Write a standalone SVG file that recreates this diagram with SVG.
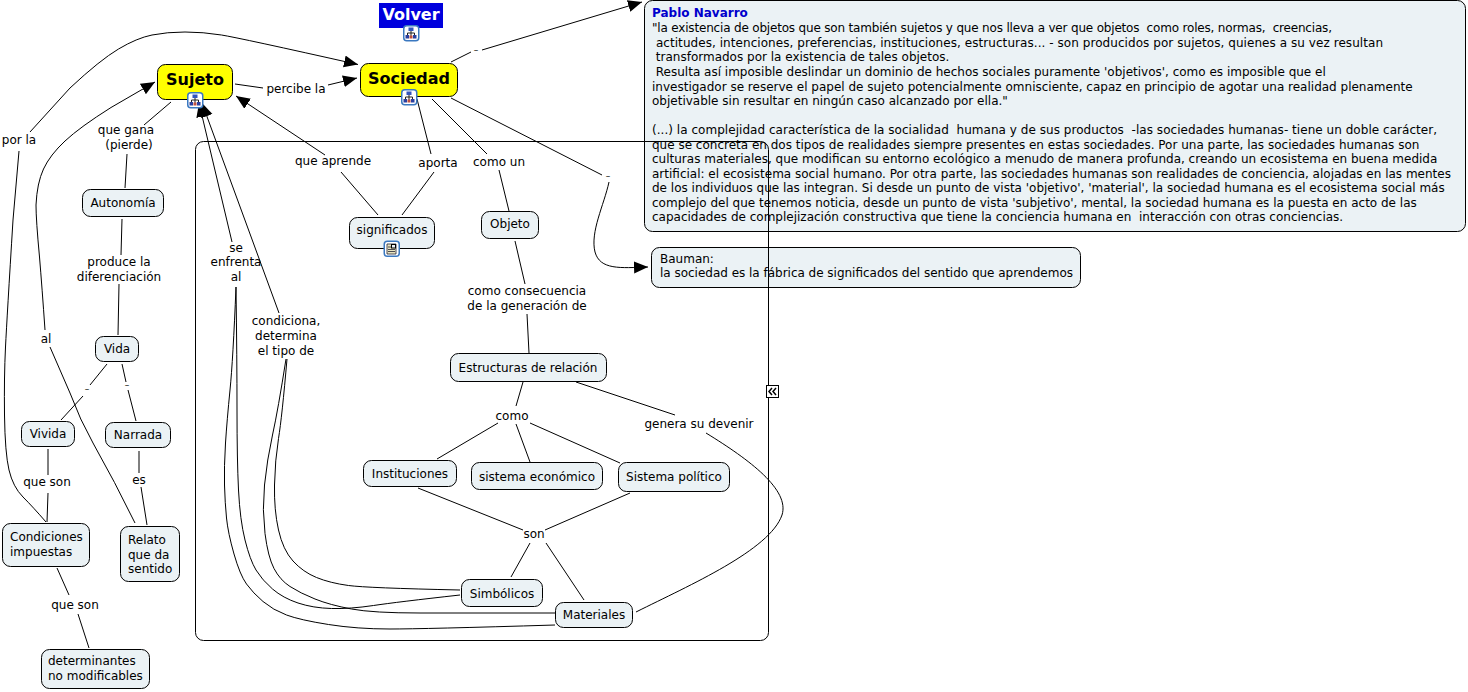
<svg xmlns="http://www.w3.org/2000/svg" width="1468" height="692" viewBox="0 0 1468 692">
<style>
text{font-family:"DejaVu Sans","Verdana",sans-serif;font-size:12px;fill:#000;text-anchor:middle}
.n rect{fill:#ebf2f5;stroke:#000;stroke-width:1}
.y rect{fill:#ffff00;stroke:#000;stroke-width:1}
.y text{font-size:16px;font-weight:bold}
.c path{fill:none;stroke:#000;stroke-width:1}
.b text,.l{text-anchor:start;white-space:pre}
.n rect.ic,rect.ic{fill:#fff;stroke:#3a78c0;stroke-width:1.500}
</style>
<defs>
<marker id="ah" markerUnits="userSpaceOnUse" markerWidth="15" markerHeight="13" refX="14" refY="6" orient="auto"><path d="M0 0L14 6L0 12Z" fill="#000"/></marker>
<g id="cm"><rect class="ic" x="0.750" y="0.750" width="15" height="15" rx="3"/><path d="M8 6v2M4.500 8h7M4.500 8v2M11.500 8v2M8 8v3" fill="none" stroke="#222" stroke-width="1"/><rect x="5.500" y="2.500" width="5" height="3.500" fill="#3355bb"/><rect x="2.500" y="10" width="3.500" height="3.500" fill="#2a3f9e"/><rect x="10" y="10" width="3.500" height="3.500" fill="#2a3f9e"/><rect x="6.500" y="10.500" width="3" height="3" fill="#c05040"/></g>
</defs>
<g class="c" id="connectors">
<path d="M235 84L263 88"/><path d="M328 85L357 78" marker-end="url(#ah)"/>
<path d="M451 62L471 52"/><path d="M482 50L642 2" marker-end="url(#ah)"/>
<path d="M417 99L431 154"/><path d="M432 99L487 154"/><path d="M499 170L509 211"/>
<path d="M451 98L602 175"/><path d="M609 182C604 205 590 232 595 252C600 270 620 268 648 267" marker-end="url(#ah)"/>
<path d="M341 172L378 215"/><path d="M434 172L402 215"/><path d="M325 155L236 96" marker-end="url(#ah)"/>
<path d="M171 102L144 125"/><path d="M127 154L125 188"/>
<path d="M122 219L121 255"/><path d="M119 284L118 335"/>
<path d="M107 364L90 385"/><path d="M83 396L61 420"/><path d="M122 364L126 382"/><path d="M128 390L136 421"/>
<path d="M48 449L48 475"/><path d="M48 493L47 522"/>
<path d="M139 451L139 473"/><path d="M141 487L147 525"/>
<path d="M57 568L69 595"/><path d="M78 614L89 648"/>
<path d="M515 241L525 284"/><path d="M527 314L529 353"/>
<path d="M523 382L516 406"/><path d="M498 423L437 459"/><path d="M516 424L530 462"/><path d="M530 423L620 463"/>
<path d="M576 382L675 415"/>
<path d="M706 433C750 460 790 490 782 515C770 550 690 585 636 612"/>
<path d="M418 488L523 530"/><path d="M630 493L545 530"/>
<path d="M530 543L511 577"/><path d="M546 543L584 600"/>
<path d="M45 330Q42 287 39.500 257Q36 220 36 205Q37 183 43.500 169Q50 155 65 141Q80 127 111 107.500L155 82" marker-end="url(#ah)"/>
<path d="M50 347Q60 370 70 393Q80 420 93 443Q115 482 135 523"/>
<path d="M19 151L13 220Q7 317 5.500 347Q4 377 4.500 415Q5 453 9 470Q13 487 23 497Q33 507 46 522"/>
<path d="M30 132L70 88Q100 60 118.500 49Q137 38 152 35Q167 32 185 32Q203 32 221.500 35Q240 38 358 64.500" marker-end="url(#ah)"/>
<path d="M232 242L199 103" marker-end="url(#ah)"/>
<path d="M279 313L202 103" marker-end="url(#ah)"/>
<path d="M236 287Q233 360 230 390Q227 420 225.500 443Q224 467 224.500 485Q225 503 226.500 518Q228 533 234 554Q240 575 246.500 584Q253 593 263 601.500Q273 610 286.500 615Q300 620 328.500 624.500Q357 629 390 629Q423 629 555 625"/>
<path d="M236 287Q237 360 237 410Q237 460 238.500 490Q240 520 245 540Q250 560 256 570Q262 580 272.500 589Q283 598 298 603Q313 608 331.500 608.500Q350 609 373.500 605.500Q397 602 460 595"/>
<path d="M286 359Q278 410 272.500 435Q267 460 264.500 485Q262 510 265 533.500Q268 557 274 568.500Q280 580 290 586.500Q300 593 315 599Q330 605 351.500 609Q373 613 420 613L555 613"/>
<path d="M287 359Q282 417 278.500 438.500Q275 460 274.500 485Q274 510 278.500 530Q283 550 293 561Q303 572 316.500 577.500Q330 583 348.500 585.500Q367 588 460 590"/>
</g>
<g id="labels">
<text x="296" y="93">percibe la</text>
<text x="333" y="165">que aprende</text>
<text x="438" y="167">aporta</text>
<text x="499" y="166">como un</text>
<text x="126" y="134">que gana</text><text x="129" y="149">(pierde)</text>
<text x="119" y="266">produce la</text><text x="119" y="281">diferenciación</text>
<text x="19" y="144">por la</text>
<text x="46" y="343">al</text>
<text x="236" y="252">se</text><text x="236" y="266">enfrenta</text><text x="236" y="281">al</text>
<text x="286" y="325">condiciona,</text><text x="286" y="340">determina</text><text x="286" y="355">el tipo de</text>
<text x="527" y="295">como consecuencia</text><text x="527" y="310">de la generación de</text>
<text x="512" y="420">como</text>
<text x="699" y="428">genera su devenir</text>
<text x="534" y="538">son</text>
<text x="47" y="486">que son</text>
<text x="139" y="484">es</text>
<text x="75" y="609">que son</text>
<text x="476" y="53" style="font-size:9px">–</text>
<text x="608" y="179" style="font-size:9px">–</text>
<text x="87" y="392" style="font-size:9px">–</text>
<text x="127" y="388" style="font-size:9px">–</text>
</g>
<g id="volver"><rect x="379" y="3" width="64" height="25" fill="#0000dd"/><text x="411" y="20" style="font-size:16px;font-weight:bold;fill:#fff">Volver</text><use href="#cm" x="403" y="25"/></g>
<g id="sujeto" class="y"><rect x="157.500" y="64.500" width="75" height="35" rx="8"/><text x="195" y="85">Sujeto</text><use href="#cm" x="187" y="92"/></g>
<g id="sociedad" class="y"><rect x="360.500" y="63.500" width="97" height="33" rx="8"/><text x="409" y="84">Sociedad</text><use href="#cm" x="401" y="89"/></g>
<g id="significados" class="n"><rect x="349.500" y="217.500" width="85" height="31" rx="8"/><text x="392" y="234">significados</text><rect class="ic" x="384.250" y="241.250" width="15" height="15" rx="3"/><path d="M387 244h9v10h-9z" fill="#e8e4c0" stroke="#223" stroke-width="0.800"/><rect x="391.500" y="244.500" width="4" height="3.500" fill="#4477cc"/><path d="M388 247h3M388 249.500h7M388 251.500h7" stroke="#223" stroke-width="0.800"/></g>
<g id="objeto" class="n"><rect x="481.500" y="211.500" width="57" height="27" rx="8"/><text x="510" y="228">Objeto</text></g>
<g id="autonomia" class="n"><rect x="82.500" y="189.500" width="81" height="27" rx="8"/><text x="123" y="207">Autonomía</text></g>
<g id="vida" class="n"><rect x="95.500" y="336.500" width="43" height="25" rx="8"/><text x="117" y="353">Vida</text></g>
<g id="vivida" class="n"><rect x="21.500" y="421.500" width="53" height="25" rx="8"/><text x="48" y="438">Vivida</text></g>
<g id="narrada" class="n"><rect x="105.500" y="422.500" width="65" height="25" rx="8"/><text x="138" y="439">Narrada</text></g>
<g id="condiciones" class="n"><rect x="2.500" y="523.500" width="87" height="43" rx="8"/><text class="l" x="10" y="541">Condiciones</text><text class="l" x="10" y="556">impuestas</text></g>
<g id="relato" class="n"><rect x="120.500" y="526.500" width="59" height="55" rx="8"/><text class="l" x="128" y="544">Relato</text><text class="l" x="128" y="559">que da</text><text class="l" x="128" y="573">sentido</text></g>
<g id="determinantes" class="n"><rect x="41.500" y="649.500" width="108" height="39" rx="8"/><text class="l" x="48" y="665">determinantes</text><text class="l" x="48" y="680">no modificables</text></g>
<g id="estructuras" class="n"><rect x="450.500" y="353.500" width="156" height="28" rx="8"/><text x="528" y="372">Estructuras de relación</text></g>
<g id="instituciones" class="n"><rect x="363.500" y="460.500" width="93" height="26" rx="8"/><text x="410" y="478">Instituciones</text></g>
<g id="economico" class="n"><rect x="471.500" y="462.500" width="131" height="27" rx="8"/><text x="537" y="481">sistema económico</text></g>
<g id="politico" class="n"><rect x="618.500" y="462.500" width="111" height="29" rx="8"/><text x="674" y="481">Sistema político</text></g>
<g id="simbolicos" class="n"><rect x="461.500" y="579.500" width="81" height="27" rx="8"/><text x="502" y="598">Simbólicos</text></g>
<g id="materiales" class="n"><rect x="555.500" y="602.500" width="77" height="25" rx="8"/><text x="594" y="619">Materiales</text></g>
<g id="bauman" class="n b"><rect x="651.500" y="247.500" width="429" height="40" rx="8"/><text x="660" y="263">Bauman:</text><text x="660" y="277" textLength="413">la sociedad es la fábrica de significados del sentido que aprendemos</text></g>
<g id="navarro" class="n b"><rect x="644.500" y="0.500" width="821" height="231" rx="8"/>
<text x="652" y="17" style="font-weight:bold;fill:#0000cc">Pablo Navarro</text>
<text x="652" y="32" xml:space="preserve" textLength="680">"la existencia de objetos que son también sujetos y que nos lleva a ver que objetos  como roles, normas,  creencias,</text>
<text x="652" y="47" xml:space="preserve" textLength="731"> actitudes, intenciones, preferencias, instituciones, estructuras... - son producidos por sujetos, quienes a su vez resultan</text>
<text x="652" y="61" xml:space="preserve"> transformados por la existencia de tales objetos.</text>
<text x="652" y="76" xml:space="preserve"> Resulta así imposible deslindar un dominio de hechos sociales puramente 'objetivos', como es imposible que el</text>
<text x="652" y="91">investigador se reserve el papel de sujeto potencialmente omnisciente, capaz en principio de agotar una realidad plenamente</text>
<text x="652" y="105">objetivable sin resultar en ningún caso alcanzado por ella."</text>
<text x="652" y="134" xml:space="preserve" textLength="785">(...) la complejidad característica de la socialidad  humana y de sus productos  -las sociedades humanas- tiene un doble carácter,</text>
<text x="652" y="149">que se concreta en dos tipos de realidades siempre presentes en estas sociedades. Por una parte, las sociedades humanas son</text>
<text x="652" y="163">culturas materiales, que modifican su entorno ecológico a menudo de manera profunda, creando un ecosistema en buena medida</text>
<text x="652" y="178">artificial: el ecosistema social humano. Por otra parte, las sociedades humanas son realidades de conciencia, alojadas en las mentes</text>
<text x="652" y="192">de los individuos que las integran. Si desde un punto de vista 'objetivo', 'material', la sociedad humana es el ecosistema social más</text>
<text x="652" y="207">complejo del que tenemos noticia, desde un punto de vista 'subjetivo', mental, la sociedad humana es la puesta en acto de las</text>
<text x="652" y="221" xml:space="preserve">capacidades de complejización constructiva que tiene la conciencia humana en  interacción con otras conciencias.</text>
</g>
<rect id="frame" x="195.500" y="141.500" width="573" height="499" rx="8" fill="none" stroke="#000"/>
<g id="collapse"><rect x="766.500" y="385.500" width="12" height="12" fill="#fff" stroke="#000"/><path d="M772 388L769 391.500L772 395M776 388L773 391.500L776 395" fill="none" stroke="#000" stroke-width="1.500"/></g>
</svg>
